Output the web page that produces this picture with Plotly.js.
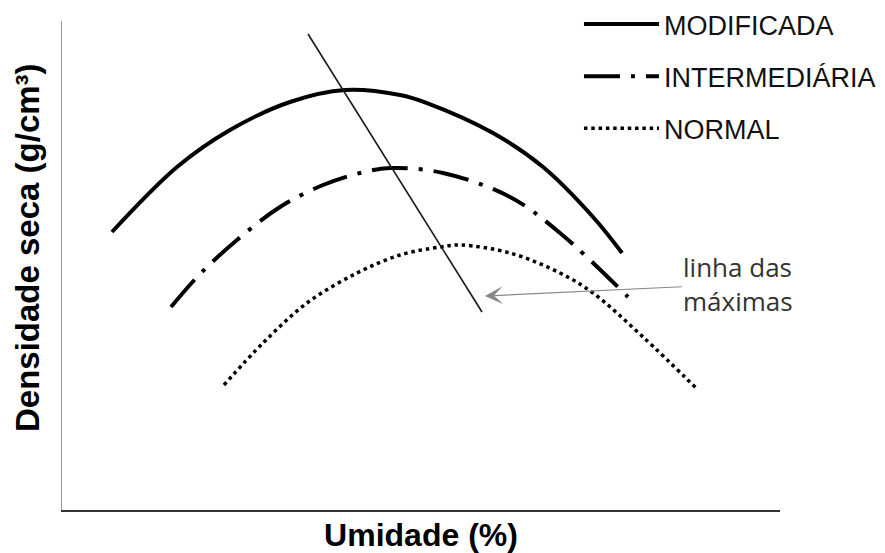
<!DOCTYPE html>
<html>
<head>
<meta charset="utf-8">
<script src="https://cdn.plot.ly/plotly-3.0.1.min.js"></script>
<style>html,body{margin:0;padding:0;background:#fff;}</style>
</head>
<body>
<div id="chart" style="width:885px;height:553px;"></div>
<script>
// Umidade (x) and densidade seca (y), relative units
const modX = [6.96, 16.02, 23.40, 31.75, 39.42, 47.08, 50.84, 60.03, 67.00, 73.96, 78.00];
const modY = [56.85, 70.14, 77.71, 83.44, 85.89, 84.87, 83.23, 77.10, 70.14, 59.92, 52.56];

const intX = [15.18, 19.22, 24.37, 30.36, 36.35, 41.50, 45.68, 53.06, 62.40, 69.36, 78.83];
const intY = [41.51, 48.26, 55.21, 61.96, 66.46, 68.92, 69.94, 68.92, 64.01, 56.65, 43.56];

const norX = [22.56, 27.99, 34.12, 41.09, 47.08, 52.65, 55.43, 62.40, 69.36, 73.96, 80.92, 88.58];
const norY = [25.56, 34.15, 42.33, 48.47, 52.15, 53.78, 54.19, 52.56, 48.47, 44.38, 35.38, 24.54];

const maxLineX = [34.26, 58.50];
const maxLineY = [97.34, 40.49];

const seriesNames = ["MODIFICADA", "INTERMEDIÁRIA", "NORMAL"];
const arrowTip = [58.91, 43.76];
const labelPos = [94.2, 46.2];

const traces = [
  {x: modX, y: modY, name: seriesNames[0], mode: "lines", legendgroup: "a",
   line: {color: "#000", width: 4, shape: "spline", smoothing: 1}},
  {x: intX, y: intY, name: seriesNames[1], mode: "lines", legendgroup: "b",
   line: {color: "#000", width: 4, shape: "spline", smoothing: 1, dash: "36px,11px,4px,11px"}},
  {x: norX, y: norY, name: seriesNames[2], mode: "lines", legendgroup: "c",
   line: {color: "#000", width: 3.5, shape: "spline", smoothing: 1, dash: "3.5px,3.8px"}},
  {x: maxLineX, y: maxLineY, mode: "lines", showlegend: false, hoverinfo: "skip",
   line: {color: "#1a1a1a", width: 1.6}}
];

const layout = {
  width: 885, height: 553,
  margin: {l: 62, r: 105, t: 0, b: 43},
  paper_bgcolor: "#fff", plot_bgcolor: "#fff",
  font: {family: "Liberation Sans, Arial, sans-serif", color: "#111"},
  showlegend: true,
  legend: {x: 0.72, y: 1.0, xanchor: "left", yanchor: "top",
    font: {size: 27, color: "#111"}, itemwidth: 75, tracegroupgap: 14,
    traceorder: "grouped", bgcolor: "rgba(0,0,0,0)"},
  xaxis: {range: [0, 100], showgrid: false, zeroline: false, showticklabels: false, ticks: "",
    showline: true, linecolor: "#333", linewidth: 1.5, fixedrange: true,
    title: {text: "Umidade (%)", font: {size: 32, color: "#000", family: "Liberation Sans, Arial, sans-serif", weight: "bold"}, standoff: 17}},
  yaxis: {range: [0, 100], domain: [0, 0.9588], showgrid: false, zeroline: false, showticklabels: false, ticks: "",
    showline: true, linecolor: "#999", linewidth: 1.5, fixedrange: true},
  annotations: [
    {xref: "paper", yref: "paper", x: -0.0487, y: 0.5137, text: "<b>Densidade seca (g/cm³)</b>",
     textangle: -90, showarrow: false, font: {size: 33, color: "#000"}, xanchor: "center", yanchor: "middle"},
    {x: arrowTip[0], y: arrowTip[1], ax: labelPos[0], ay: labelPos[1], axref: "x", ayref: "y",
     text: "linha das<br>máximas", showarrow: true, arrowhead: 3, arrowsize: 2.5, arrowwidth: 1.2,
     arrowcolor: "#888", standoff: 0,
     font: {family: "Open Sans, Noto Sans, sans-serif", size: 26, color: "#333"}, align: "left"}
  ]
};

Plotly.newPlot("chart", traces, layout, {displayModeBar: false, staticPlot: true});
</script>
</body>
</html>
